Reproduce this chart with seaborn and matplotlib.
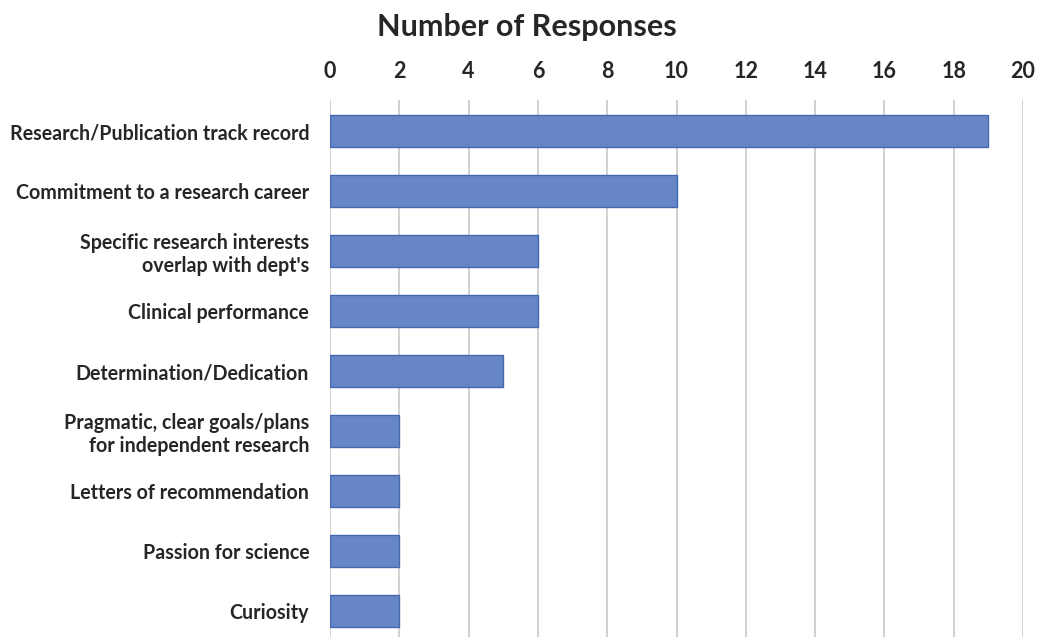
import matplotlib
matplotlib.use("Agg")
import matplotlib.pyplot as plt
import seaborn as sns
import pandas as pd

categories = [
    "Research/Publication track record",
    "Commitment to a research career",
    "Specific research interests\noverlap with dept's",
    "Clinical performance",
    "Determination/Dedication",
    "Pragmatic, clear goals/plans\nfor independent research",
    "Letters of recommendation",
    "Passion for science",
    "Curiosity",
]
responses = [19, 10, 6, 6, 5, 2, 2, 2, 2]
xticks = [0, 2, 4, 6, 8, 10, 12, 14, 16, 18, 20]

df = pd.DataFrame({"cat": categories, "n": responses})

sns.set_theme(style="white")
plt.rcParams["font.family"] = ["Lato", "DejaVu Sans"]
plt.rcParams["font.weight"] = "bold"

fig = plt.figure(figsize=(10.37, 6.37), dpi=100)
ax = fig.add_axes([330 / 1037, 0, 693 / 1037, 1 - 100 / 637])

sns.barplot(data=df, y="cat", x="n", orient="h", color="#6686C8",
            saturation=1, width=0.53, edgecolor="#4468B0", linewidth=1.0, ax=ax, zorder=3)

ax.set_xlim(0, 20)
ax.set_ylim(8.43, -0.52)
ax.set_xticks(xticks)
ax.xaxis.tick_top()
ax.tick_params(axis="x", length=0, pad=13, labelsize=15.5)
ax.tick_params(axis="y", length=0, pad=15, labelsize=14.1)
for t in ax.get_xticklabels():
    t.set_fontweight("bold")
for t in ax.get_yticklabels():
    t.set_fontweight("bold")
    t.set_multialignment("right")
ax.grid(axis="x", color="#C9C9C9", linewidth=1.2, zorder=0)
ax.set_axisbelow(True)
for s in ax.spines.values():
    s.set_visible(False)
ax.set_xlabel("")
ax.set_ylabel("")
fig.text(527 / 1037, 1 - 27 / 637, "Number of Responses", ha="center", va="center",
         fontsize=22, fontweight="bold")

fig.savefig("out.png", dpi=100)
